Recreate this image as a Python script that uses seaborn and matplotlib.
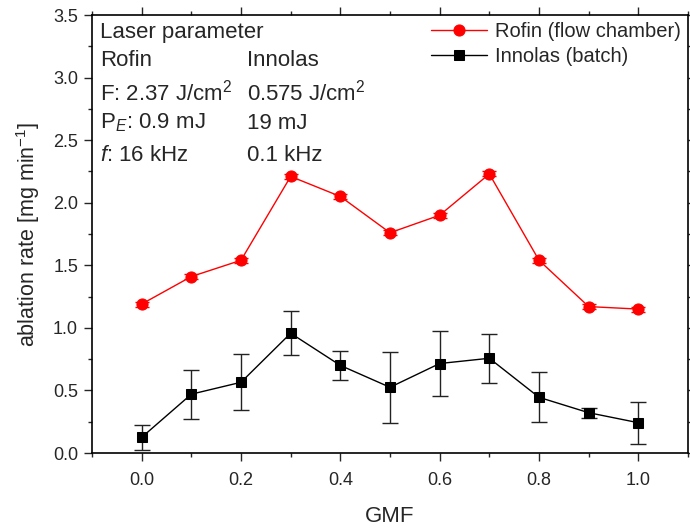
import numpy as np
import pandas as pd
import matplotlib
matplotlib.use("Agg")
import matplotlib.pyplot as plt
from matplotlib.ticker import MultipleLocator
import seaborn as sns

gmf = [0.0, 0.1, 0.2, 0.3, 0.4, 0.5, 0.6, 0.7, 0.8, 0.9, 1.0]
rofin = [1.19, 1.41, 1.54, 2.21, 2.05, 1.76, 1.90, 2.23, 1.54, 1.17, 1.15]
rofin_err = [0.02, 0.02, 0.02, 0.02, 0.02, 0.02, 0.02, 0.02, 0.02, 0.02, 0.02]
innolas = [0.125, 0.47, 0.565, 0.957, 0.70, 0.525, 0.715, 0.757, 0.445, 0.322, 0.242]
innolas_err = [0.10, 0.195, 0.224, 0.176, 0.115, 0.285, 0.256, 0.197, 0.20, 0.04, 0.168]

sns.set_style("ticks")
plt.rcParams['font.family'] = ['Liberation Sans', 'DejaVu Sans']
plt.rcParams['mathtext.fontset'] = 'custom'
plt.rcParams['mathtext.rm'] = 'Liberation Sans'
plt.rcParams['mathtext.it'] = 'Liberation Sans:italic'
plt.rcParams['mathtext.bf'] = 'Liberation Sans:bold'

fig, ax = plt.subplots(figsize=(6.9, 5.29), dpi=100)
fig.subplots_adjust(left=92/690, right=688/690, top=1-15/529, bottom=1-453/529)

df_r = pd.DataFrame({"GMF": gmf, "rate": rofin})
df_i = pd.DataFrame({"GMF": gmf, "rate": innolas})

ax.errorbar(gmf, rofin, yerr=rofin_err, fmt='none', ecolor='red', elinewidth=1,
            capsize=5, capthick=1, zorder=2)
ax.errorbar(gmf, innolas, yerr=innolas_err, fmt='none', ecolor='#222222', elinewidth=1,
            capsize=6, capthick=1, zorder=2)
sns.lineplot(data=df_r, x="GMF", y="rate", ax=ax, color='red', marker='o', markersize=8,
             markeredgecolor='red', linewidth=1, label='Rofin (flow chamber)', zorder=3)
sns.lineplot(data=df_i, x="GMF", y="rate", ax=ax, color='black', marker='s', markersize=7,
             markeredgecolor='black', linewidth=1, label='Innolas (batch)', zorder=3)

ax.set_xlim(-0.1, 1.1)
ax.set_ylim(0, 3.5)
ax.set_xticks(np.arange(0, 1.01, 0.2))
ax.set_xticklabels([f"{v:.1f}" for v in np.arange(0, 1.01, 0.2)])
ax.xaxis.set_minor_locator(MultipleLocator(0.1))
ax.yaxis.set_major_locator(MultipleLocator(0.5))
ax.yaxis.set_minor_locator(MultipleLocator(0.25))
ax.tick_params(which='both', direction='out', top=True, right=True, labeltop=False,
               labelright=False, width=1, labelsize=13)
ax.tick_params(which='major', length=6)
ax.tick_params(which='minor', length=3)
ax.tick_params(axis='x', which='major', pad=8)
ax.tick_params(axis='y', which='major', pad=4)
for s in ax.spines.values():
    s.set_visible(True)
    s.set_linewidth(1.2)
    s.set_color('black')

ax.set_xlabel("GMF", fontsize=16, labelpad=12)
ax.set_ylabel("ablation rate [mg min$^{-1}$]", fontsize=15.5, labelpad=8)

tkw = dict(transform=ax.transAxes, fontsize=16, va='center', ha='left')
x1, x2 = 0.013, 0.26
ax.text(x1, 1 - 0.039, "Laser parameter", **tkw)
ax.text(x1, 1 - 0.105, "Rofin", **tkw)
ax.text(x2, 1 - 0.105, "Innolas", **tkw)
ax.text(x1, 1 - 0.176, "F: 2.37 J/cm$^{2}$", **tkw)
ax.text(x2, 1 - 0.176, "0.575 J/cm$^{2}$", **tkw)
ax.text(x1, 1 - 0.247, "P$_{\\mathit{E}}$: 0.9 mJ", **tkw)
ax.text(x2, 1 - 0.247, "19 mJ", **tkw)
ax.text(x1, 1 - 0.32, "$\\mathit{f}$: 16 kHz", **tkw)
ax.text(x2, 1 - 0.32, "0.1 kHz", **tkw)

leg = ax.legend(loc='upper right', frameon=False, fontsize=14.5, handlelength=2.8,
                handletextpad=0.4, borderaxespad=0.15, labelspacing=0.3,
                borderpad=0.2)

fig.savefig("out.png", dpi=100)
